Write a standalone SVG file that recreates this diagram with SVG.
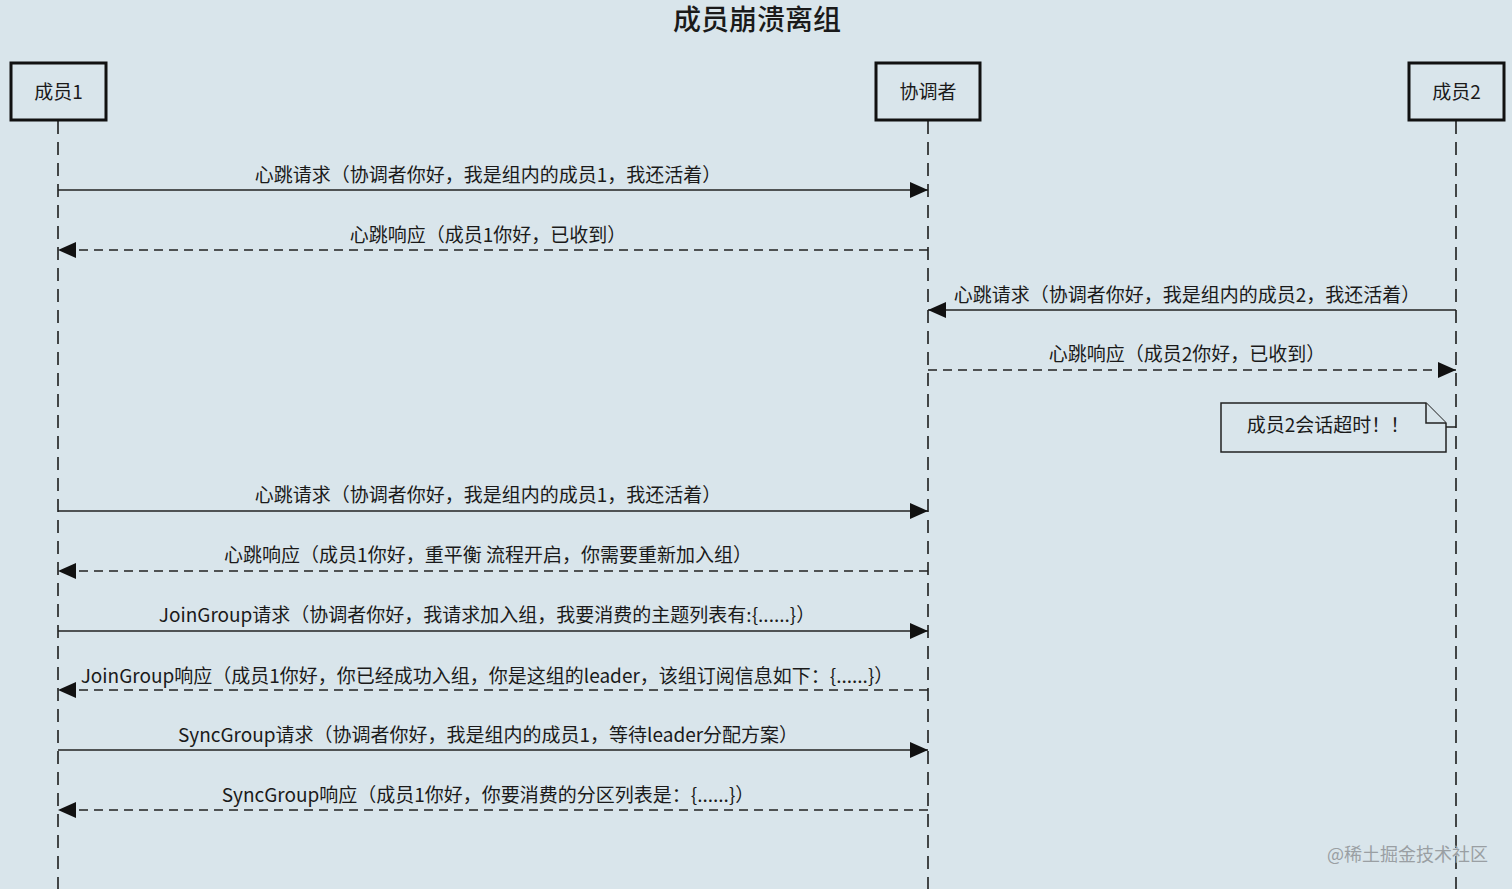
<svg xmlns="http://www.w3.org/2000/svg" width="1512" height="889" viewBox="0 0 1512 889">
<defs>
<style>
.bg{fill:#d9e5eb}
.actor{fill:#d9e5eb;stroke:#111;stroke-width:3}
.life{stroke:#111;stroke-width:1.5;stroke-dasharray:13 8;fill:none}
.msg{stroke:#222;stroke-width:1.5;fill:none}
.dash{stroke-dasharray:9 6}
.t{font-family:"Noto Sans CJK SC","Liberation Sans",sans-serif;fill:#1a1a1a;font-size:19px;text-anchor:middle}
.title{font-size:28px;font-weight:500}
.note{fill:#d9e5eb;stroke:#222;stroke-width:1.5}
.wm{font-family:"Noto Sans CJK SC",sans-serif;fill:#9a9fa3;font-size:18px}
</style>
<marker id="ah" viewBox="0 0 18 16" refX="18" refY="8" markerWidth="18" markerHeight="16" markerUnits="userSpaceOnUse" orient="auto">
<path d="M0,0 L18,8 L0,16 Z" fill="#111"/>
</marker>
</defs>
<rect class="bg" x="0" y="0" width="1512" height="889"/>
<text class="t title" x="757" y="30">成员崩溃离组</text>

<g id="lifelines">
<line class="life" x1="58" y1="121" x2="58" y2="889"/>
<line class="life" x1="928" y1="121" x2="928" y2="889"/>
<line class="life" x1="1456" y1="121" x2="1456" y2="889"/>
</g>

<g id="member1"><rect class="actor" x="11" y="63" width="95" height="57"/><text class="t" x="58.5" y="99">成员1</text></g>
<g id="coordinator"><rect class="actor" x="876" y="63" width="104" height="57"/><text class="t" x="928" y="99">协调者</text></g>
<g id="member2"><rect class="actor" x="1409" y="63" width="95" height="57"/><text class="t" x="1456.5" y="99">成员2</text></g>

<g id="connectors">
<line class="msg" x1="58" y1="190" x2="928" y2="190" marker-end="url(#ah)"/>
<text class="t" x="488" y="182">心跳请求（协调者你好，我是组内的成员1，我还活着）</text>
<line class="msg dash" x1="928" y1="250" x2="58" y2="250" marker-end="url(#ah)"/>
<text class="t" x="488" y="242">心跳响应（成员1你好，已收到）</text>
<line class="msg" x1="1456" y1="310" x2="928" y2="310" marker-end="url(#ah)"/>
<text class="t" x="1187" y="302">心跳请求（协调者你好，我是组内的成员2，我还活着）</text>
<line class="msg dash" x1="928" y1="370" x2="1456" y2="370" marker-end="url(#ah)"/>
<text class="t" x="1187" y="361">心跳响应（成员2你好，已收到）</text>
<line class="msg" x1="1446" y1="427" x2="1456" y2="427"/>
<line class="msg" x1="58" y1="511" x2="928" y2="511" marker-end="url(#ah)"/>
<text class="t" x="488" y="502">心跳请求（协调者你好，我是组内的成员1，我还活着）</text>
<line class="msg dash" x1="928" y1="571" x2="58" y2="571" marker-end="url(#ah)"/>
<text class="t" x="488" y="562">心跳响应（成员1你好，重平衡 流程开启，你需要重新加入组）</text>
<line class="msg" x1="58" y1="631" x2="928" y2="631" marker-end="url(#ah)"/>
<text class="t" x="487" y="622">JoinGroup请求（协调者你好，我请求加入组，我要消费的主题列表有:{......}）</text>
<line class="msg dash" x1="928" y1="690" x2="58" y2="690" marker-end="url(#ah)"/>
<text class="t" x="487" y="683">JoinGroup响应（成员1你好，你已经成功入组，你是这组的leader，该组订阅信息如下：{......}）</text>
<line class="msg" x1="58" y1="750" x2="928" y2="750" marker-end="url(#ah)"/>
<text class="t" x="488" y="742">SyncGroup请求（协调者你好，我是组内的成员1，等待leader分配方案）</text>
<line class="msg dash" x1="928" y1="810" x2="58" y2="810" marker-end="url(#ah)"/>
<text class="t" x="488" y="802">SyncGroup响应（成员1你好，你要消费的分区列表是：{......}）</text>
</g>

<g id="note">
<path class="note" d="M1221,403 L1426,403 L1446,423 L1446,452 L1221,452 Z"/>
<path class="note" d="M1426,403 L1426,423 L1446,423" fill="none"/>
<text class="t" x="1328" y="432">成员2会话超时！！</text>
</g>

<text class="wm" x="1327" y="861">@稀土掘金技术社区</text>
</svg>
